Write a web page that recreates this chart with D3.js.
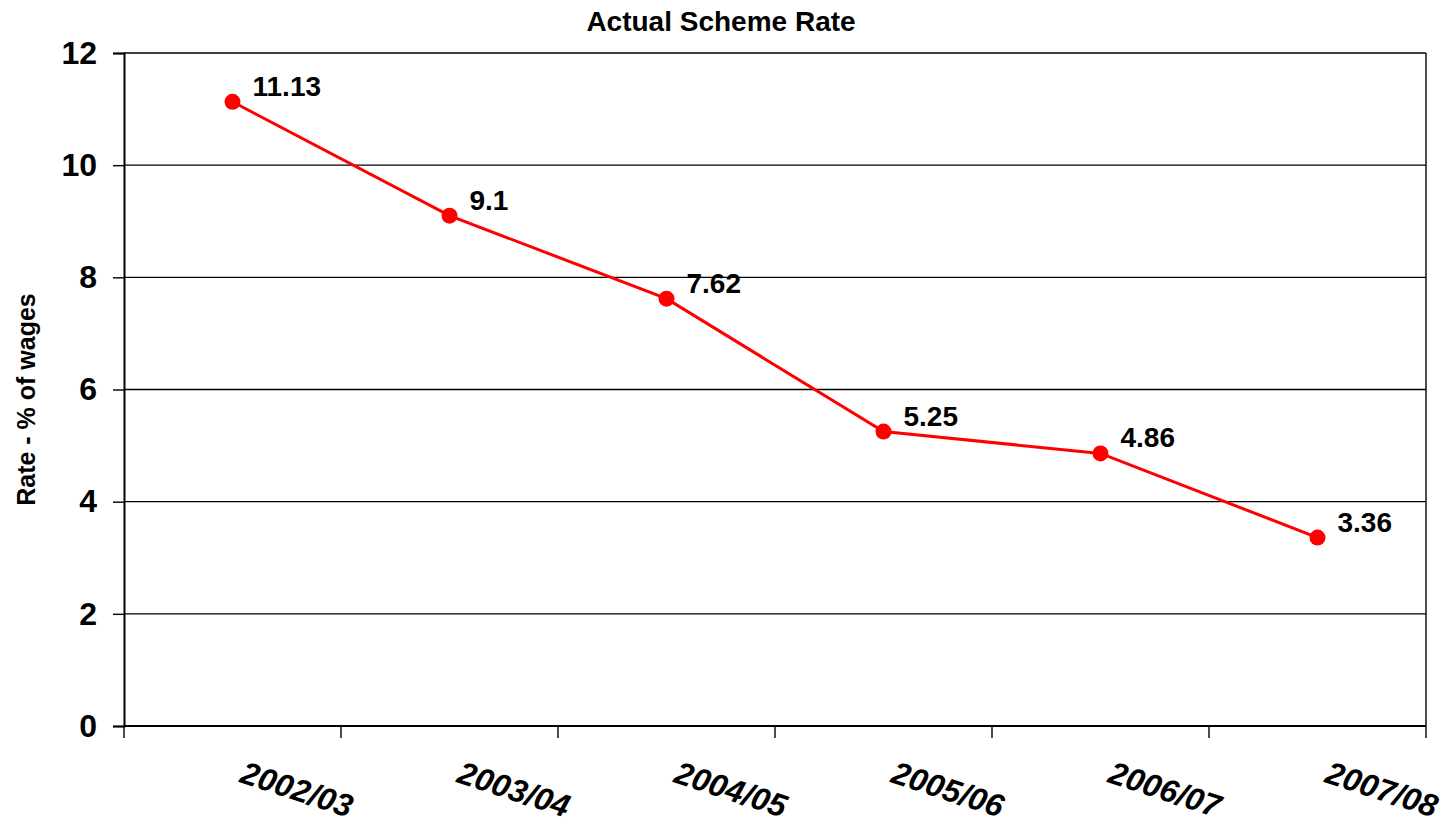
<!DOCTYPE html>
<html>
<head>
<meta charset="utf-8">
<script src="https://cdn.jsdelivr.net/npm/d3@7"></script>
<style>
  html, body { margin: 0; padding: 0; background: #fff; }
  svg { display: block; font-family: "Liberation Sans", Arial, sans-serif; }
</style>
</head>
<body>
<svg id="chart" width="1449" height="828"></svg>
<script>
// Scheme rate by financial year
const years = ["2002/03", "2003/04", "2004/05", "2005/06", "2006/07", "2007/08"];
const rates = [11.13, 9.1, 7.62, 5.25, 4.86, 3.36];
const yTicks = [0, 2, 4, 6, 8, 10, 12];

const svg = d3.select("#chart");
const margin = { left: 124, right: 23, top: 53, bottom: 102 };
const W = 1449, H = 828;

const x = d3.scaleBand().domain(years).range([margin.left, W - margin.right]).padding(0);
const y = d3.scaleLinear().domain([0, 12]).range([H - margin.bottom, margin.top]);

const data = years.map((d, i) => ({ year: d, rate: rates[i] }));

// horizontal gridlines
svg.append("g").selectAll("line")
  .data(yTicks.filter(t => t > 0))
  .join("line")
  .attr("x1", margin.left).attr("x2", W - margin.right)
  .attr("y1", d => y(d)).attr("y2", d => y(d))
  .attr("stroke", "#000").attr("stroke-width", 1.4);

// right border of plot area
svg.append("line")
  .attr("x1", W - margin.right).attr("x2", W - margin.right)
  .attr("y1", y(12)).attr("y2", y(0))
  .attr("stroke", "#000").attr("stroke-width", 1.4);

// y axis
const yAxis = svg.append("g")
  .attr("transform", `translate(${margin.left},0)`)
  .call(d3.axisLeft(y).tickValues(yTicks).tickSize(11).tickPadding(16).tickFormat(d3.format("d")));
yAxis.select(".domain").attr("stroke", "#000").attr("stroke-width", 2);
yAxis.selectAll(".tick line").attr("stroke", "#000").attr("stroke-width", 1.4);
yAxis.selectAll(".tick text")
  .attr("font-family", "Liberation Sans, Arial, sans-serif")
  .attr("font-size", 32).attr("font-weight", "bold").attr("fill", "#000");

// x axis: tick marks on category boundaries
const xEdges = years.map(d => x(d)).concat([x(years[years.length - 1]) + x.bandwidth()]);
const xAxis = svg.append("g");
xAxis.append("line")
  .attr("x1", margin.left).attr("x2", W - margin.right)
  .attr("y1", y(0)).attr("y2", y(0))
  .attr("stroke", "#000").attr("stroke-width", 2);
xAxis.selectAll("line.tick")
  .data(xEdges)
  .join("line")
  .attr("class", "tick")
  .attr("x1", d => d).attr("x2", d => d)
  .attr("y1", y(0)).attr("y2", y(0) + 12)
  .attr("stroke", "#000").attr("stroke-width", 1.4);

// rotated category labels
xAxis.selectAll("text")
  .data(years)
  .join("text")
  .attr("transform", d => `translate(${x(d) + x.bandwidth() / 2 + 6},${y(0) + 56}) rotate(18)`)
  .attr("font-size", 32).attr("font-weight", "bold").attr("font-style", "italic")
  .attr("fill", "#000")
  .text(d => d);

// line series
const line = d3.line()
  .x(d => x(d.year) + x.bandwidth() / 2)
  .y(d => y(d.rate));

svg.append("path")
  .datum(data)
  .attr("d", line)
  .attr("fill", "none")
  .attr("stroke", "#ff0000")
  .attr("stroke-width", 3);

svg.append("g").selectAll("circle")
  .data(data)
  .join("circle")
  .attr("cx", d => x(d.year) + x.bandwidth() / 2)
  .attr("cy", d => y(d.rate))
  .attr("r", 8)
  .attr("fill", "#ff0000");

// value labels
svg.append("g").selectAll("text")
  .data(data)
  .join("text")
  .attr("x", d => x(d.year) + x.bandwidth() / 2 + 20)
  .attr("y", d => y(d.rate) - 6)
  .attr("font-size", 28).attr("font-weight", "bold").attr("fill", "#000")
  .text(d => String(d.rate));

// title
svg.append("text")
  .attr("x", 721).attr("y", 31)
  .attr("text-anchor", "middle")
  .attr("font-size", 28).attr("font-weight", "bold").attr("fill", "#000")
  .text("Actual Scheme Rate");

// y axis title
svg.append("text")
  .attr("transform", `translate(35,${(y(0) + y(12)) / 2 + 10}) rotate(-90)`)
  .attr("text-anchor", "middle")
  .attr("font-size", 25).attr("font-weight", "bold").attr("fill", "#000")
  .text("Rate - % of wages");
</script>
</body>
</html>
